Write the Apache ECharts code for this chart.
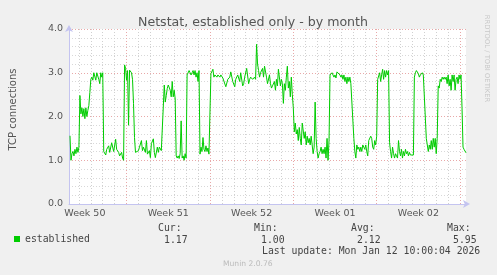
<!DOCTYPE html>
<html>
<head>
<meta charset="utf-8">
<script src="https://cdn.jsdelivr.net/npm/echarts@6/dist/echarts.min.js"></script>
<style>
html,body{margin:0;padding:0;background:#f0f0f0;}
#chart{width:497px;height:275px;}
</style>
</head>
<body>
<div id="chart"></div>
<script>
// x: hours since Mon 8 Dec 2025 00:00 (start of Week 50)
const hours = [
 54,56,58,60,62,64,66,68,70,72,74,76,78,80,82,84,86,88,90,92,94,96,98,100,102,104,106,108,110,112,114,116,118,120,
 122,126,128,132,134,138,142,146,148,152,154,158,160,162,164,166,168,170,172,174,176,178,180,182,184,186,188,
 192,194,198,200,202,206,208,210,214,216,218,222,224,226,230,232,234,238,242,244,246,248,250,252,254,256,258,
 260,262,264,266,268,270,272,274,276,278,280,282,284,286,288,290,292,294,296,298,300,302,304,306,308,310,312,314,
 316,318,320,322,324,326,328,330,332,334,336,338,342,344,346,350,352,356,358,362,366,368,372,376,378,382,386,388,
 392,396,398,402,404,406,410,414,416,418,422,426,428,430,432,434,436,438,442,444,446,450,452,456,458,460,462,464,
 466,468,470,472,474,478,480,482,484,486,488,490,492,494,496,498,500,502,504,506,508,510,512,514,516,518,520,522,
 526,528,530,532,534,536,538,540,542,544,546,548,550,552,554,556,558,560,562,564,566,568,570,572,574,576,578,580,
 582,586,588,590,592,594,598,600,602,604,606,608,610,612,614,616,618,620,622,624,626,628,630,632,634,636,638,640,
 642,644,646,648,650,652,654,656,660,662,664,666,668,670,672,674,676,678,680,682,684,686,688,690,692,694,696,698,
 700,702,704,706,708,710,712,714,716,718,720,722,724,726,728,730,732,734,736,738,740,742,746,748,750,752,754,756,
 758,760,762,764,766,768,770,772,774,776,778,780,782,784,786,788,790,792,794,796,798,800,802,804,806,808,810,812,
 814,816,818,820,822,824,826,828,830,832,834,836,838,840,842,844,846,848,850,852
];
const established = [
 1.56,1.0,1.15,1.2,1.1,1.25,1.15,1.3,1.18,1.3,2.48,2.06,2.2,2.0,2.18,1.95,2.2,2.0,2.14,2.25,2.55,2.85,2.9,2.83,3.0,3.0,2.83,3.0,3.0,2.85,2.75,3.0,2.9,3.0,
 1.2,1.12,1.25,1.33,1.18,1.4,1.2,1.48,1.25,1.18,1.1,1.18,1.05,1.0,3.18,3.1,2.83,3.05,1.8,3.06,3.1,3.0,2.85,2.3,1.52,1.18,1.14,
 1.22,1.3,1.45,1.22,1.3,1.18,1.45,1.14,1.22,1.06,1.38,1.49,1.18,1.06,1.3,1.18,1.3,1.22,1.18,2.72,2.33,2.48,2.64,2.72,2.7,2.6,2.45,
 2.8,2.45,2.6,2.4,1.1,1.05,1.1,1.04,1.15,1.9,1.05,1.1,1.0,1.15,1.05,2.95,2.95,3.05,3.0,2.95,3.0,3.05,2.95,3.05,2.9,3.0,2.8,3.05,
 1.14,1.3,1.2,1.52,1.25,1.2,1.33,1.2,1.28,1.14,1.1,2.98,3.08,2.9,2.95,2.9,2.95,2.9,2.95,2.88,2.85,2.68,2.85,2.9,3.02,2.8,2.68,2.85,
 2.95,2.8,3.0,2.7,2.75,2.9,3.1,2.75,2.85,2.9,2.85,2.9,2.85,3.65,3.2,3.05,2.9,3.0,3.1,2.9,3.15,2.9,2.75,2.95,2.75,2.65,2.7,2.68,
 2.8,2.6,2.85,2.7,3.08,2.7,2.85,2.75,2.3,2.75,2.6,2.9,3.15,2.65,2.8,2.45,2.9,2.5,2.2,1.65,1.85,1.6,1.7,1.45,1.75,1.5,1.35,1.85,
 1.5,1.65,1.35,1.55,1.4,1.5,1.35,1.55,1.35,1.15,1.3,2.33,1.5,1.2,1.05,1.15,1.2,1.3,1.15,1.25,1.15,1.3,1.05,1.5,1.0,1.45,2.95,2.95,
 3.0,2.9,2.95,2.88,3.02,3.05,2.95,2.9,2.95,2.85,2.95,2.8,2.9,2.75,2.9,2.8,2.9,2.75,2.78,2.75,1.5,1.2,1.05,1.35,1.25,1.3,1.2,1.3,
 1.2,1.35,1.3,1.25,1.35,1.2,1.1,1.45,1.55,1.5,1.3,1.25,1.45,1.35,1.55,2.85,2.85,3.0,2.8,2.95,3.08,2.85,3.05,2.9,3.05,2.95,3.05,1.4,
 1.2,1.05,1.3,1.15,1.05,1.15,1.1,1.05,1.45,1.2,1.1,1.25,1.05,1.2,1.1,1.25,1.15,1.2,1.1,1.18,1.12,1.15,1.12,2.9,3.0,3.05,3.02,2.98,
 2.9,2.95,2.92,3.0,2.95,2.98,2.95,1.5,1.5,1.2,1.35,1.25,1.45,1.25,1.5,1.3,1.5,1.15,1.5,2.7,2.65,2.85,2.8,2.9,2.85,2.9,2.85,2.9,
 2.75,2.95,2.7,2.85,2.6,2.95,2.8,2.95,2.6,2.85,2.9,2.75,2.95,2.85,2.95,2.2,1.3,1.25,1.22,1.17
];
const weekLabels = ['Week 50','Week 51','Week 52','Week 01','Week 02'];
const weekLabelHours = [84,252,420,588,756];
const yTicks = [0,1,2,3,4];
const statLabels = ['Cur:','Min:','Avg:','Max:'];
const statValues = ['1.17','1.00','2.12','5.95'];
const seriesName = 'established';
const lastUpdate = 'Last update: Mon Jan 12 10:00:04 2026';

const xMin = 52, xMax = 852, xStep = 4;
// vertical grid colors: cycle of one week (42 steps of 4h) starting at xMin
const vColors = [];
for (let k = 0; k < 42; k++) {
  const h = xMin + k * xStep;
  if (h % 168 === 0) vColors.push('#e8a8a8');
  else if (h % 24 === 0) vColors.push('#d0d0d0');
  else vColors.push('rgba(0,0,0,0)');
}
const hColors = ['#e8a8a8','#d8d8d8','#d8d8d8','#d8d8d8','#d8d8d8'];

const chart = echarts.init(document.getElementById('chart'), null, {renderer:'canvas'});
const mono = 'DejaVu Sans Mono';
const sans = 'DejaVu Sans';
const graphics = [];
const statX = [158, 254, 351, 447];
const valX = [164, 261, 357, 453];
statLabels.forEach((s,i)=>{
  graphics.push({type:'text', x:statX[i], y:228, style:{text:s, font:'9.8px "DejaVu Sans Mono"', fill:'#444', textVerticalAlign:'middle'}});
  graphics.push({type:'text', x:valX[i], y:240, style:{text:statValues[i], font:'9.8px "DejaVu Sans Mono"', fill:'#444', textVerticalAlign:'middle'}});
});
graphics.push({type:'text', x:262, y:251, style:{text:lastUpdate, font:'9.8px "DejaVu Sans Mono"', fill:'#444', textVerticalAlign:'middle'}});
graphics.push({type:'text', x:223, y:264, style:{text:'Munin 2.0.76', font:'7.6px "DejaVu Sans"', fill:'#bbb', textVerticalAlign:'middle'}});
graphics.push({type:'text', x:486.5, y:58.5, rotation:-Math.PI/2, style:{text:'RRDTOOL / TOBI OETIKER', font:'6.8px "DejaVu Sans"', fill:'#c8c8c8', textAlign:'center', textVerticalAlign:'middle'}});

chart.setOption({
  animation:false,
  backgroundColor:'#f0f0f0',
  title:{text:'Netstat, established only - by month', left:248, top:11, textAlign:'center',
    textStyle:{fontFamily:sans, fontSize:12.6, fontWeight:'normal', color:'#555'}},
  legend:{left:14, top:234, padding:0, itemWidth:6, itemHeight:6, itemGap:5, icon:'rect',
    textStyle:{fontFamily:mono, fontSize:9.8, color:'#444'},
    data:[{name:seriesName, itemStyle:{color:'#00cc00'}}]},
  grid:{left:66, top:29, width:400, height:175, show:true, backgroundColor:'#ffffff', borderWidth:0},
  xAxis:{type:'value', min:xMin, max:xMax, interval:xStep,
    axisLine:{show:true, lineStyle:{color:'#c4c4f0', width:1}, symbol:['none','arrow'], symbolSize:[6,7], symbolOffset:[0,4]},
    axisTick:{show:false},
    splitLine:{show:true, lineStyle:{color:vColors, type:[1,2], width:1}},
    axisLabel:{interval:0, margin:5, fontFamily:sans, fontSize:9.5, color:'#555', showMinLabel:true, showMaxLabel:true,
      formatter:(v)=>{const i = weekLabelHours.indexOf(Math.round(v)); return (i>=0 && Math.abs(v-Math.round(v))<1e-6) ? weekLabels[i] : '';}}
  },
  yAxis:{type:'value', min:0, max:4, interval:0.2,
    name:'TCP connections', nameLocation:'middle', nameGap:51, nameRotate:90,
    nameTextStyle:{fontFamily:sans, fontSize:10, color:'#555', padding:[0,0,0,14]},
    axisLine:{show:true, lineStyle:{color:'#c4c4f0', width:1}, symbol:['none','arrow'], symbolSize:[6,7], symbolOffset:[0,4]},
    axisTick:{show:false},
    splitLine:{show:true, lineStyle:{color:hColors, type:[1,2], width:1}},
    axisLabel:{margin:6, fontFamily:sans, fontSize:9.5, color:'#555',
      formatter:(v)=>{const r=Math.round(v); return (Math.abs(v-r)<1e-6 && yTicks.indexOf(r)>=0) ? r.toFixed(1) : '';}}
  },
  series:[{name:seriesName, type:'line', data:hours.map((h,i)=>[h, established[i]]),
    showSymbol:false, symbol:'none', lineStyle:{color:'#00cc00', width:1}, itemStyle:{color:'#00cc00'}}],
  graphic:graphics
});
</script>
</body>
</html>
